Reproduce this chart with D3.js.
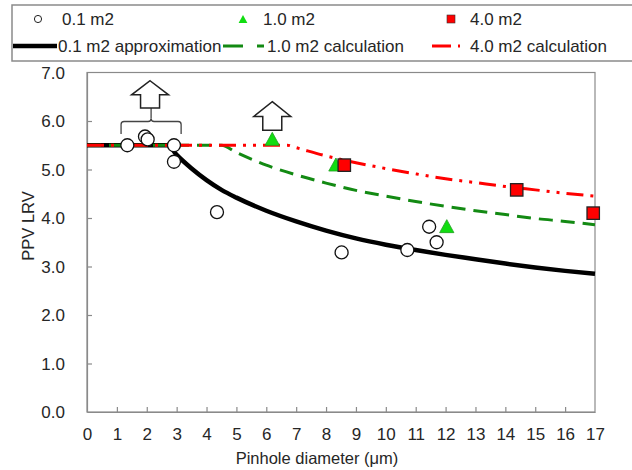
<!DOCTYPE html>
<html>
<head>
<meta charset="utf-8">
<script src="https://cdn.jsdelivr.net/npm/d3@7/dist/d3.min.js"></script>
<style>
  html, body { margin: 0; padding: 0; background: #fff; }
  svg { display: block; font-family: "Liberation Sans", Arial, sans-serif; }
</style>
</head>
<body>
<svg id="chart" width="632" height="470"></svg>
<script>
// ---- Data ----
const xTickValues = [0,1,2,3,4,5,6,7,8,9,10,11,12,13,14,15,16,17];
const yTickValues = [0,1,2,3,4,5,6,7];

const m01X = [1.35, 1.94, 2.03, 2.91, 2.91, 4.35, 8.52, 10.72, 11.45, 11.7];
const m01Y = [5.5, 5.68, 5.62, 5.5, 5.16, 4.12, 3.29, 3.34, 3.82, 3.5];

const m10X = [6.2, 8.33, 12.04];
const m10Y = [5.6, 5.07, 3.8];

const m40X = [8.61, 14.38, 16.94];
const m40Y = [5.09, 4.58, 4.1];

const approx01X = [0, 2.7, 3.0, 3.5, 4.0, 4.5, 5, 6, 7, 8, 9, 10, 11, 12, 13, 14, 15, 16, 17];
const approx01Y = [5.5, 5.5, 5.3, 5.02, 4.78, 4.58, 4.42, 4.15, 3.93, 3.74, 3.58, 3.45, 3.34, 3.24, 3.15, 3.06, 2.98, 2.91, 2.85];

const calc10X = [0, 4.5, 5, 6, 7, 8, 9, 10, 11, 12, 13, 14, 15, 16, 17];
const calc10Y = [5.5, 5.5, 5.35, 5.09, 4.89, 4.72, 4.57, 4.45, 4.34, 4.24, 4.15, 4.07, 3.99, 3.93, 3.86];

const calc40X = [0, 6.7, 7, 8, 9, 10, 11, 12, 13, 14, 15, 16, 17];
const calc40Y = [5.5, 5.5, 5.45, 5.28, 5.14, 5.02, 4.91, 4.81, 4.73, 4.65, 4.58, 4.51, 4.45];

// ---- Setup ----
const svg = d3.select("#chart");
const x = d3.scaleLinear().domain([0, 17]).range([87, 595]);
const y = d3.scaleLinear().domain([0, 7]).range([412, 72.5]);
const axisColor = "#8a8a8a";
const textColor = "#262626";
const fs = "17px";

// Legend box
svg.append("rect").attr("x", 12).attr("y", 5).attr("width", 640).attr("height", 56)
  .attr("fill", "#fff").attr("stroke", axisColor).attr("stroke-width", 1.5);

// Plot frame
svg.append("rect").attr("x", x(0)).attr("y", y(7)).attr("width", x(17) - x(0)).attr("height", y(0) - y(7))
  .attr("fill", "none").attr("stroke", axisColor).attr("stroke-width", 1.2);

// Axes
const xAxis = d3.axisBottom(x).tickValues(xTickValues).tickFormat(d3.format("d")).tickSizeInner(-5).tickSizeOuter(0).tickPadding(16);
const gx = svg.append("g").attr("transform", `translate(0,${y(0)})`).call(xAxis);
const yAxis = d3.axisLeft(y).tickValues(yTickValues).tickFormat(d3.format(".1f")).tickSizeInner(-5).tickSizeOuter(0).tickPadding(22);
const gy = svg.append("g").attr("transform", `translate(${x(0)},0)`).call(yAxis);
[gx, gy].forEach(g => {
  g.select(".domain").attr("stroke", axisColor).attr("stroke-width", 1.2);
  g.selectAll(".tick line").attr("stroke", axisColor).attr("stroke-width", 1.2);
  g.selectAll(".tick text").attr("fill", textColor).style("font-size", fs)
   .style("font-family", '"Liberation Sans", Arial, sans-serif');
});
gy.selectAll(".tick text").attr("dy", "0.35em");
gy.selectAll(".tick").filter(d => d === 0 || d === 7).select("line").remove();
gx.selectAll(".tick").filter(d => d === 0 || d === 17).select("line").remove();

// Axis titles
svg.append("text").attr("x", 317).attr("y", 464).attr("text-anchor", "middle")
  .attr("fill", textColor).style("font-size", "16.5px").text("Pinhole diameter (μm)");
svg.append("text").attr("transform", "translate(34,226) rotate(-90)").attr("text-anchor", "middle")
  .attr("fill", textColor).style("font-size", "16.5px").text("PPV LRV");

// Lines
const line = d3.line().x(d => x(d[0])).y(d => y(d[1])).curve(d3.curveMonotoneX);
const zip = (a, b) => a.map((v, i) => [v, b[i]]);

svg.append("path").datum(zip(approx01X, approx01Y)).attr("d", line)
  .attr("fill", "none").attr("stroke", "#000").attr("stroke-width", 4.5);
svg.append("path").datum(zip(calc10X, calc10Y)).attr("d", line)
  .attr("fill", "none").attr("stroke", "#138a13").attr("stroke-width", 3).attr("stroke-dasharray", "14,8");
svg.append("path").datum(zip(calc40X, calc40Y)).attr("d", line)
  .attr("fill", "none").attr("stroke", "#ff0000").attr("stroke-width", 3).attr("stroke-dasharray", "17,7,3,7,3,7");

// Annotations: bracket and arrows (anchored with the scales)
const bx0 = x(1.14), bx1 = x(3.15), bxm = (bx0 + bx1) / 2, byTop = y(5.99), byEnd = y(5.73);
svg.append("path")
  .attr("d", `M${bx0},${byEnd} L${bx0},${byTop + 3} Q${bx0},${byTop} ${bx0 + 3},${byTop} L${bxm - 3},${byTop} Q${bxm},${byTop} ${bxm},${byTop - 3} Q${bxm},${byTop} ${bxm + 3},${byTop} L${bx1 - 3},${byTop} Q${bx1},${byTop} ${bx1},${byTop + 3} L${bx1},${byEnd}`)
  .attr("fill", "none").attr("stroke", "#444").attr("stroke-width", 1.3);
svg.append("line").attr("x1", bxm).attr("x2", bxm).attr("y1", byTop - 3).attr("y2", y(6.27))
  .attr("stroke", "#444").attr("stroke-width", 1.3);

function arrow(cx, tipY, baseY) {
  const tip = y(tipY), base = y(baseY);
  const headH = (base - tip) * 0.52, headW = 18.5, shaftW = 9.5;
  const p = [[cx, tip], [cx + headW, tip + headH], [cx + shaftW, tip + headH], [cx + shaftW, base],
             [cx - shaftW, base], [cx - shaftW, tip + headH], [cx - headW, tip + headH]];
  svg.append("polygon").attr("points", p.map(q => q.join(",")).join(" "))
    .attr("fill", "#fff").attr("stroke", "#222").attr("stroke-width", 1.5);
}
arrow(x(2.11), 6.83, 6.27);
arrow(x(6.2), 6.4, 5.81);

// Markers
const triPath = s => `M0,${-s * 0.62} L${s * 0.55},${s * 0.38} L${-s * 0.55},${s * 0.38} Z`;

svg.append("g").selectAll("circle").data(zip(m01X, m01Y)).join("circle")
  .attr("cx", d => x(d[0])).attr("cy", d => y(d[1])).attr("r", 6.5)
  .attr("fill", "#fff").attr("stroke", "#111").attr("stroke-width", 1.3);

svg.append("g").selectAll("path").data(zip(m10X, m10Y)).join("path")
  .attr("transform", d => `translate(${x(d[0])},${y(d[1])})`).attr("d", triPath(13))
  .attr("fill", "#11dd11").attr("stroke", "#22a022").attr("stroke-width", 0.8);

svg.append("g").selectAll("rect").data(zip(m40X, m40Y)).join("rect")
  .attr("x", d => x(d[0]) - 6.2).attr("y", d => y(d[1]) - 6.2).attr("width", 12.4).attr("height", 12.4)
  .attr("fill", "#ff0000").attr("stroke", "#222").attr("stroke-width", 1.3);

// Legend
const lg = svg.append("g").style("font-size", fs).attr("fill", textColor);
const r1 = 19, r2 = 46;
lg.append("circle").attr("cx", 38).attr("cy", r1).attr("r", 3.6).attr("fill", "#fff").attr("stroke", "#222").attr("stroke-width", 1);
lg.append("text").attr("x", 62).attr("y", r1 + 6).text("0.1 m2");
lg.append("path").attr("transform", `translate(243,${r1 + 1})`).attr("d", triPath(8)).attr("fill", "#11dd11");
lg.append("text").attr("x", 263).attr("y", r1 + 6).text("1.0 m2");
lg.append("rect").attr("x", 447).attr("y", r1 - 4).attr("width", 8).attr("height", 8).attr("fill", "#ff0000").attr("stroke", "#333").attr("stroke-width", 0.6);
lg.append("text").attr("x", 470).attr("y", r1 + 6).text("4.0 m2");

lg.append("line").attr("x1", 13).attr("x2", 57).attr("y1", r2).attr("y2", r2).attr("stroke", "#000").attr("stroke-width", 4.5);
lg.append("text").attr("x", 58).attr("y", r2 + 6).text("0.1 m2 approximation");
lg.append("line").attr("x1", 223).attr("x2", 264).attr("y1", r2).attr("y2", r2).attr("stroke", "#138a13").attr("stroke-width", 3).attr("stroke-dasharray", "20,14");
lg.append("text").attr("x", 267).attr("y", r2 + 6).text("1.0 m2 calculation");
lg.append("line").attr("x1", 432).attr("x2", 462).attr("y1", r2).attr("y2", r2).attr("stroke", "#ff0000").attr("stroke-width", 3).attr("stroke-dasharray", "19,7,2,20");
lg.append("text").attr("x", 470).attr("y", r2 + 6).text("4.0 m2 calculation");
</script>
</body>
</html>
